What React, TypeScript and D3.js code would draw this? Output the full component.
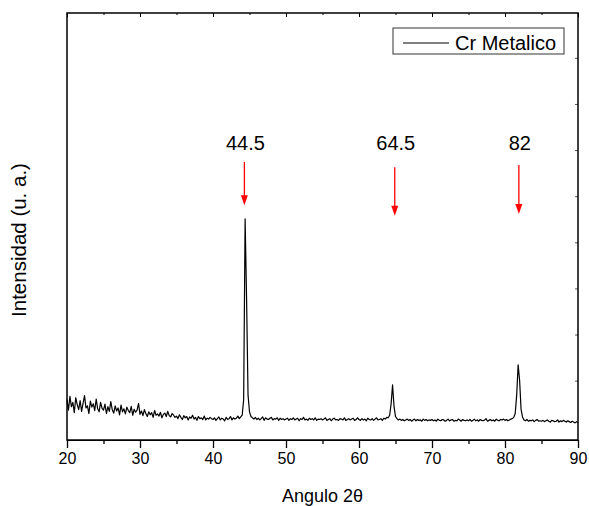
import React, { useEffect, useRef } from 'react'
import * as d3 from 'd3'

// 2θ grid, 0.2° step from 20 to 90
const stepDeg = 0.2
const startDeg = 20

// intensities, one row per 5 degrees
const intensity = [
  95, 70, 102, 78, 88, 64, 99, 83, 71, 92, 67, 86, 104, 75, 80, 62, 91, 77, 85, 69, 96, 73, 66, 88, 74,
  70, 84, 62, 78, 67, 90, 71, 63, 80, 68, 75, 59, 82, 66, 73, 61, 77, 69, 64, 79, 58, 72, 65, 70, 86,
  60, 68, 57, 71, 62, 55, 66, 59, 64, 53, 69, 58, 61, 56, 65, 52, 60, 63, 55, 67, 57, 54, 62, 58, 53,
  56, 50, 59, 53, 48, 57, 52, 55, 47, 54, 51, 58, 49, 53, 46, 55, 50, 52, 48, 56, 47, 51, 49, 53, 50,
  48, 52, 46, 50, 54, 47, 51, 49, 45, 53, 48, 50, 55, 47, 52, 49, 51, 56, 50, 54, 58, 95, 518, 330, 105,
  66, 55, 52, 49, 53, 48, 51, 47, 50, 54, 46, 52, 49, 48, 51, 53, 47, 50, 49, 52, 46, 51, 48, 50, 47,
  49, 51, 46, 50, 48, 52, 47, 49, 51, 45, 50, 48, 53, 47, 49, 46, 51, 48, 50, 47, 52, 46, 49, 48, 50,
  47, 49, 52, 46, 48, 50, 45, 49, 51, 47, 48, 46, 50, 49, 47, 52, 46, 48, 50, 47, 49, 51, 46, 48, 52,
  48, 46, 50, 47, 49, 45, 51, 48, 47, 50, 46, 49, 52, 47, 48, 50, 46, 51, 49, 53, 52, 58, 85, 129, 78,
  55, 50, 47, 49, 46, 48, 45, 47, 49, 46, 48, 44, 47, 49, 45, 48, 46, 47, 44, 49, 46, 48, 45, 47, 46,
  48, 45, 47, 44, 49, 46, 45, 48, 47, 44, 46, 49, 45, 47, 48, 44, 46, 45, 49, 47, 44, 48, 46, 45, 47,
  45, 48, 44, 46, 49, 45, 47, 44, 48, 46, 45, 47, 50, 44, 46, 48, 45, 47, 44, 49, 46, 45, 48, 47, 49,
  46, 48, 45, 47, 49, 50, 53, 62, 105, 176, 140, 72, 54, 47, 45, 48, 44, 46, 45, 47, 43, 46, 48, 44, 45,
  44, 46, 43, 45, 47, 44, 42, 46, 45, 43, 44, 47, 42, 45, 43, 46, 44, 42, 45, 43, 41, 44, 42, 40, 43,
  40,
]

const xTicks = [20, 30, 40, 50, 60, 70, 80, 90]
const xMinorTicks = [25, 35, 45, 55, 65, 75, 85]
const rightTicks = [895, 787, 679, 571, 463, 355, 247, 139]

// peak annotations
const peakLabels = ['44.5', '64.5', '82']
const arrowAngle = [44.3, 64.9, 81.9]
const arrowTop = [651, 639, 644]
const arrowTip = [550, 525, 529]
const labelLevel = [680, 680, 678]

const seriesName = 'Cr Metalico'

function App() {
  const svgRef = useRef<SVGSVGElement>(null)

  useEffect(() => {
    const width = 589
    const height = 506
    const m = { left: 67, right: 11, top: 13, bottom: 66 }
    const font = 'Arial, "Liberation Sans", sans-serif'

    const svg = d3.select(svgRef.current)
      .attr('width', width)
      .attr('height', height)
      .style('background', '#fff')
    svg.selectAll('*').remove()

    const x = d3.scaleLinear().domain([20, 90]).range([m.left, width - m.right])
    const y = d3.scaleLinear().domain([0, 1000]).range([height - m.bottom, m.top])

    const data = intensity.map((v, i) => [startDeg + i * stepDeg, v] as [number, number])

    // the trace
    const line = d3.line<[number, number]>()
      .x(d => x(d[0]))
      .y(d => y(d[1]))
    svg.append('path')
      .datum(data)
      .attr('fill', 'none')
      .attr('stroke', '#000')
      .attr('stroke-width', 1.2)
      .attr('stroke-linejoin', 'round')
      .attr('d', line)

    // bottom axis
    const bottom = svg.append('g')
      .attr('transform', `translate(0,${height - m.bottom})`)
      .call(d3.axisBottom(x).tickValues(xTicks).tickSize(8).tickPadding(5).tickFormat(d3.format('d')))
    bottom.selectAll('text').style('font-family', font).style('font-size', '16px').attr('fill', '#000')
    bottom.append('g')
      .call(d3.axisBottom(x).tickValues(xMinorTicks).tickSize(4).tickFormat(() => ''))
      .select('.domain').remove()
    bottom.selectAll('line').attr('stroke-width', 1.3)

    // top axis, inward ticks
    const top = svg.append('g')
      .attr('transform', `translate(0,${m.top})`)
    top.call(d3.axisBottom(x).tickValues(xTicks).tickSize(4).tickFormat(() => ''))
    top.selectAll('.domain').remove()
    top.append('g')
      .call(d3.axisBottom(x).tickValues(xMinorTicks).tickSize(2).tickFormat(() => ''))
      .select('.domain').remove()

    // right axis, inward ticks
    const right = svg.append('g')
      .attr('transform', `translate(${width - m.right},0)`)
      .call(d3.axisLeft(y).tickValues(rightTicks).tickSize(3).tickFormat(() => ''))
    right.select('.domain').remove()
    right.selectAll('line').attr('stroke', '#555')

    // frame
    svg.append('rect')
      .attr('x', m.left)
      .attr('y', m.top)
      .attr('width', width - m.left - m.right)
      .attr('height', height - m.top - m.bottom)
      .attr('fill', 'none')
      .attr('stroke', '#000')
      .attr('stroke-width', 1.5)

    // arrows and labels
    const ann = svg.append('g')
    peakLabels.forEach((lab, i) => {
      const ax = x(arrowAngle[i])
      const y0 = y(arrowTop[i])
      const y1 = y(arrowTip[i])
      ann.append('line')
        .attr('x1', ax).attr('x2', ax)
        .attr('y1', y0).attr('y2', y1 - 8)
        .attr('stroke', '#ff0000')
        .attr('stroke-width', 1.3)
      ann.append('path')
        .attr('d', `M${ax - 3.5},${y1 - 10}L${ax + 3.5},${y1 - 10}L${ax},${y1}Z`)
        .attr('fill', '#ff0000')
      ann.append('text')
        .attr('x', ax + 1)
        .attr('y', y(labelLevel[i]))
        .attr('text-anchor', 'middle')
        .style('font-family', font)
        .style('font-size', '20px')
        .text(lab)
    })

    // legend
    const lg = svg.append('g')
    lg.append('rect')
      .attr('x', 393).attr('y', 28)
      .attr('width', 171).attr('height', 26)
      .attr('fill', '#fff')
      .attr('stroke', '#333')
      .attr('stroke-width', 1)
    lg.append('line')
      .attr('x1', 403).attr('x2', 449)
      .attr('y1', 43).attr('y2', 43)
      .attr('stroke', '#000')
      .attr('stroke-width', 1)
    lg.append('text')
      .attr('x', 455).attr('y', 50)
      .style('font-family', font)
      .style('font-size', '20px')
      .text(seriesName)

    // axis titles
    svg.append('text')
      .attr('x', (m.left + width - m.right) / 2)
      .attr('y', 502)
      .attr('text-anchor', 'middle')
      .style('font-family', font)
      .style('font-size', '18px')
      .text('Angulo 2θ')

    svg.append('text')
      .attr('transform', 'translate(26,240) rotate(-90)')
      .attr('text-anchor', 'middle')
      .style('font-family', font)
      .style('font-size', '20.5px')
      .text('Intensidad (u. a.)')
  }, [])

  return (
    <div style={{ position: 'absolute', left: 0, top: 0 }}>
      <svg ref={svgRef}></svg>
    </div>
  )
}

export default App
